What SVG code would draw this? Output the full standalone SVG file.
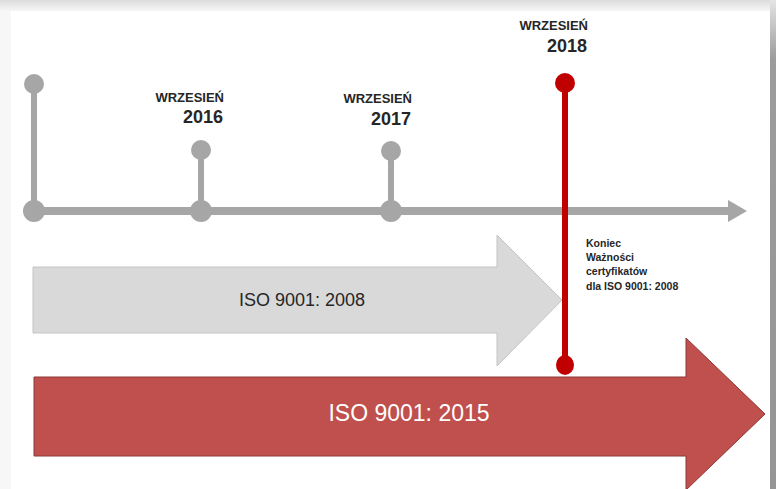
<svg xmlns="http://www.w3.org/2000/svg" width="776" height="489" viewBox="0 0 776 489">
  <defs>
    <linearGradient id="topEdge" x1="0" y1="0" x2="0" y2="1">
      <stop offset="0" stop-color="#dcdcdc"/>
      <stop offset="1" stop-color="#f6f6f6"/>
    </linearGradient>
    <linearGradient id="rightEdge" x1="0" y1="0" x2="0" y2="1">
      <stop offset="0" stop-color="#e4e4e4"/>
      <stop offset="0.12" stop-color="#9c9c9c"/>
      <stop offset="1" stop-color="#959595"/>
    </linearGradient>
    <linearGradient id="leftEdge" x1="0" y1="0" x2="1" y2="0">
      <stop offset="0" stop-color="#f7f7f7"/>
      <stop offset="1" stop-color="#efefef"/>
    </linearGradient>
  </defs>
  <style>
    .axis { stroke: #a6a6a6; stroke-width: 6; fill: none; }
    .axisDot { fill: #a6a6a6; }
    .red { stroke: #c00000; stroke-width: 6; fill: none; }
    .redDot { fill: #c00000; }
    .month { font-family: "Liberation Sans", Arial, sans-serif; font-weight: bold; font-size: 13px; fill: #262626; text-anchor: end; }
    .year { font-family: "Liberation Sans", Arial, sans-serif; font-weight: bold; font-size: 18px; fill: #262626; text-anchor: end; }
    .note { font-family: "Liberation Sans", Arial, sans-serif; font-weight: bold; font-size: 10.5px; fill: #262626; }
    .bandLabel { font-family: "Liberation Sans", Arial, sans-serif; }
  </style>

  <!-- page frame with soft shadow edges -->
  <rect x="0" y="0" width="776" height="489" fill="url(#leftEdge)"/>
  <rect x="0" y="0" width="776" height="11" fill="url(#topEdge)"/>
  <rect x="770" y="0" width="6" height="489" fill="url(#rightEdge)"/>
  <rect x="11" y="11" width="759" height="478" fill="#ffffff"/>

  <!-- version bands -->
  <g id="band-2008">
    <polygon points="33,267 497,267 497,235 562,300 497,366 497,333 33,333" fill="#d9d9d9" stroke="#c4c4c4" stroke-width="1"/>
    <text class="bandLabel" x="302" y="306" font-size="18" fill="#262626" text-anchor="middle">ISO 9001: 2008</text>
  </g>
  <g id="band-2015">
    <polygon points="34,377 686,377 686,338 765,414 686,490 686,456 34,456" fill="#c0504d" stroke="#8c3836" stroke-width="1"/>
    <text class="bandLabel" x="409" y="421" font-size="23" fill="#ffffff" text-anchor="middle">ISO 9001: 2015</text>
  </g>

  <!-- timeline axis -->
  <g id="connectors">
    <line x1="34" y1="211" x2="730" y2="211" stroke="#a6a6a6" stroke-width="8"/>
    <polygon points="728,200 747,211 728,222" fill="#a6a6a6"/>
    <line class="axis" x1="34" y1="84" x2="34" y2="211"/>
    <line class="axis" x1="201" y1="150" x2="201" y2="211"/>
    <line class="axis" x1="391" y1="151" x2="391" y2="211"/>
    <line class="red" x1="565" y1="83" x2="565" y2="365"/>
  </g>

  <g id="node-start">
    <circle class="axisDot" cx="34" cy="84" r="10"/>
    <circle class="axisDot" cx="34" cy="211" r="11"/>
  </g>

  <g id="node-2016">
    <circle class="axisDot" cx="201" cy="150" r="10"/>
    <circle class="axisDot" cx="201" cy="211" r="11"/>
    <text class="month" x="224" y="102">WRZESIEŃ</text>
    <text class="year" x="223" y="123">2016</text>
  </g>

  <g id="node-2017">
    <circle class="axisDot" cx="391" cy="151" r="10"/>
    <circle class="axisDot" cx="391" cy="211" r="11"/>
    <text class="month" x="412" y="103">WRZESIEŃ</text>
    <text class="year" x="411" y="125">2017</text>
  </g>

  <g id="node-2018">
    <circle class="redDot" cx="565" cy="83" r="10"/>
    <ellipse class="redDot" cx="565" cy="365" rx="9" ry="10"/>
    <text class="month" x="588" y="30">WRZESIEŃ</text>
    <text class="year" x="587" y="52">2018</text>
  </g>

  <g id="note-expiry">
    <text class="note" x="586" y="247">Koniec</text>
    <text class="note" x="586" y="261">Ważności</text>
    <text class="note" x="586" y="275">certyfikatów</text>
    <text class="note" x="586" y="290">dla ISO 9001: 2008</text>
  </g>
</svg>
